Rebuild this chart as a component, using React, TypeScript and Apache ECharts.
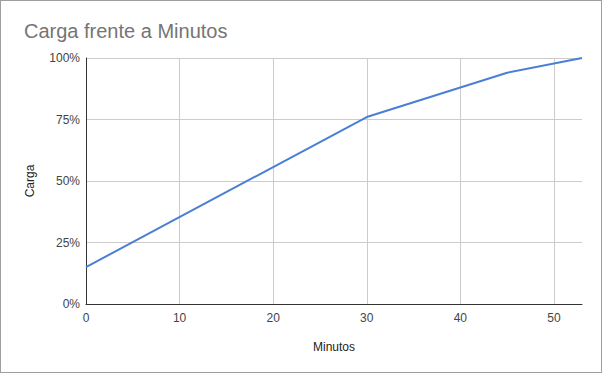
import React, { useEffect, useRef } from "react";
import * as echarts from "echarts";

const minutes = [0, 30, 45, 53];
const carga = [15, 76, 94, 100];
const yTicks = [0, 25, 50, 75, 100];

export default function App() {
  const ref = useRef<HTMLDivElement>(null);
  useEffect(() => {
    if (!ref.current) return;
    const chart = echarts.init(ref.current, null, { renderer: "svg" });
    const font = "Arial, 'Liberation Sans', sans-serif";
    chart.setOption({
      animation: false,
      backgroundColor: "#ffffff",
      title: {
        text: "Carga frente a Minutos",
        left: 18,
        top: 15,
        textStyle: { fontSize: 20, fontWeight: "normal", color: "#757575", fontFamily: font },
      },
      grid: { left: 85, right: 19, top: 57, bottom: 68, containLabel: false },
      xAxis: {
        type: "value",
        min: 0,
        max: 53,
        interval: 10,
        name: "Minutos",
        nameLocation: "middle",
        nameGap: 37,
        nameTextStyle: { fontSize: 12, color: "#222", fontFamily: font },
        axisLine: { show: true, onZero: false, lineStyle: { color: "#333", width: 1 } },
        axisTick: { show: false },
        axisLabel: { fontSize: 12, color: "#444", fontFamily: font, margin: 8, showMaxLabel: false },
        splitLine: { show: true, showMinLine: false, showMaxLine: false, lineStyle: { color: "#cccccc", width: 1 } },
      },
      yAxis: {
        type: "value",
        min: yTicks[0],
        max: yTicks[yTicks.length - 1],
        interval: 25,
        name: "Carga",
        nameLocation: "middle",
        nameGap: 50,
        nameTextStyle: { fontSize: 12, color: "#222", fontFamily: font },
        axisLine: { show: true, lineStyle: { color: "#333", width: 1 } },
        axisTick: { show: false },
        axisLabel: { fontSize: 12, color: "#444", fontFamily: font, margin: 6, formatter: "{value}%" },
        splitLine: { show: true, showMinLine: false, lineStyle: { color: "#cccccc", width: 1 } },
      },
      series: [
        {
          type: "line",
          data: minutes.map((m, i) => [m, carga[i]]),
          showSymbol: false,
          symbol: "none",
          lineStyle: { color: "#4a7fd4", width: 2 },
        },
      ],
    });
    return () => chart.dispose();
  }, []);
  return (
    <div
      style={{
        position: "fixed",
        left: 0,
        top: 0,
        width: 602,
        height: 373,
        border: "1px solid #9e9e9e",
        boxSizing: "border-box",
        background: "#fff",
      }}
    >
      <div ref={ref} style={{ width: 600, height: 371 }} />
    </div>
  );
}
